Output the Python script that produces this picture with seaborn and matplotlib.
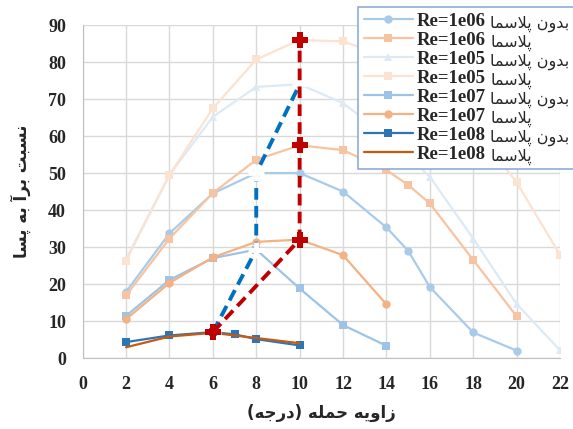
import matplotlib
matplotlib.use("Agg")
import matplotlib.pyplot as plt
from matplotlib.transforms import IdentityTransform
import seaborn as sns
import pandas as pd

# angle of attack (deg) and lift/drag ratio per case
x_1e06_np = [2, 4, 6, 8, 10, 12, 14, 15, 16, 18, 20]
y_1e06_np = [17.9, 33.7, 44.5, 50, 50, 45, 35.3, 29, 19.2, 6.9, 2]
x_1e06_p = [2, 4, 6, 8, 10, 12, 14, 15, 16, 18, 20]
y_1e06_p = [16.9, 32.3, 44.6, 53.6, 57.5, 56.2, 50.8, 46.8, 41.8, 26.5, 11.3]
x_1e05_np = [2, 4, 6, 8, 10, 12, 14, 16, 18, 20, 22]
y_1e05_np = [26.8, 49.5, 65.2, 73.3, 74, 68.9, 60, 49, 32.3, 14.6, 2.1]
x_1e05_p = [2, 4, 6, 8, 10, 12, 14, 16, 18, 20, 22]
y_1e05_p = [26.3, 49.5, 67.5, 80.7, 86, 85.6, 81.5, 74, 62.5, 47.5, 27.9]
x_1e07_np = [2, 4, 6, 8, 10, 12, 14]
y_1e07_np = [11.4, 21.1, 27, 29.3, 18.8, 8.9, 3.3]
x_1e07_p = [2, 4, 6, 8, 10, 12, 14]
y_1e07_p = [10.5, 20.3, 27.2, 31.4, 32, 27.8, 14.5]
x_1e08_np = [2, 4, 6, 7, 8, 10]
y_1e08_np = [4.3, 6.1, 7, 6.4, 5.1, 3.4]
x_1e08_p = [2, 4, 6, 8, 10]
y_1e08_p = [2.9, 5.8, 6.8, 5.4, 4]

# maxima trace (dashed)
x_max_np = [6, 8, 8, 10]
y_max_np = [7, 29.3, 50, 74]
x_max_p = [6, 10, 10, 10]
y_max_p = [7, 32, 57.5, 86]

x_ticks = list(range(0, 23, 2))
y_ticks = list(range(0, 91, 10))

# --- minimal arabic shaping (matplotlib has no RTL/joining support) ---
DUAL = {
    "ب": "\ufe8f\ufe90\ufe91\ufe92", "پ": "\ufb56\ufb57\ufb58\ufb59",
    "ت": "\ufe95\ufe96\ufe97\ufe98", "ن": "\ufee5\ufee6\ufee7\ufee8",
    "س": "\ufeb1\ufeb2\ufeb3\ufeb4", "م": "\ufee1\ufee2\ufee3\ufee4",
    "ل": "\ufedd\ufede\ufedf\ufee0", "ه": "\ufee9\ufeea\ufeeb\ufeec",
    "ی": "\ufbfc\ufbfd\ufbfe\ufbff", "ح": "\ufea1\ufea2\ufea3\ufea4",
    "ج": "\ufe9d\ufe9e\ufe9f\ufea0",
}
RIGHT = {
    "ا": "\ufe8d\ufe8e", "آ": "\ufe81\ufe82", "د": "\ufea9\ufeaa",
    "ر": "\ufead\ufeae", "ز": "\ufeaf\ufeb0", "و": "\ufeed\ufeee",
}
LAMALEF = {"ا": "\ufefb\ufefc", "آ": "\ufef5\ufef6"}


def shape(text):
    out = []
    i = 0
    while i < len(text):
        c = text[i]
        prev_joins = i > 0 and text[i - 1] in DUAL
        nxt = text[i + 1] if i + 1 < len(text) else ""
        if c == "ل" and nxt in LAMALEF:
            out.append(LAMALEF[nxt][1 if prev_joins else 0])
            i += 2
            continue
        if c in DUAL:
            next_joins = nxt in DUAL or nxt in RIGHT
            form = {(False, False): 0, (True, False): 1,
                    (False, True): 2, (True, True): 3}[(prev_joins, next_joins)]
            out.append(DUAL[c][form])
        elif c in RIGHT:
            out.append(RIGHT[c][1 if prev_joins else 0])
        else:
            out.append(c)
        i += 1
    vis = "".join(reversed(out))
    return vis.translate(str.maketrans("()", ")("))


NP = shape("بدون پلاسما")
P = shape("پلاسما")

series = [
    (x_1e06_np, y_1e06_np, "Re=1e06", NP, "#A9CBEA", "o"),
    (x_1e06_p, y_1e06_p, "Re=1e06", P, "#F7C3A1", "s"),
    (x_1e05_np, y_1e05_np, "Re=1e05", NP, "#DDEAF6", "^"),
    (x_1e05_p, y_1e05_p, "Re=1e05", P, "#FBE2D1", "s"),
    (x_1e07_np, y_1e07_np, "Re=1e07", NP, "#9DC3E6", "s"),
    (x_1e07_p, y_1e07_p, "Re=1e07", P, "#F4B183", "o"),
    (x_1e08_np, y_1e08_np, "Re=1e08", NP, "#2E75B6", "s"),
    (x_1e08_p, y_1e08_p, "Re=1e08", P, "#C55A11", None),
]

sns.set_style("white")
fig = plt.figure(figsize=(5.73, 4.29), dpi=100)
ax = fig.add_axes([0.1443, 0.1655, 0.833, 0.776])

for xs, ys, re, fa, color, mk in series:
    df = pd.DataFrame({"x": xs, "y": ys})
    sns.lineplot(data=df, x="x", y="y", ax=ax, color=color, linewidth=1.6,
                 marker=mk, markersize=6, markeredgewidth=0, label=re,
                 sort=False, estimator=None)

df_np = pd.DataFrame({"x": x_max_np, "y": y_max_np})
sns.lineplot(data=df_np, x="x", y="y", ax=ax, color="#0070C0", linewidth=2.8,
             linestyle=(0, (3, 1.6)), marker="+", markersize=12,
             markeredgewidth=3.5, sort=False, estimator=None, zorder=5)
df_p = pd.DataFrame({"x": x_max_p, "y": y_max_p})
sns.lineplot(data=df_p, x="x", y="y", ax=ax, color="#C00000", linewidth=2.8,
             linestyle=(0, (3, 1.6)), marker="P", markersize=11,
             markeredgewidth=0, sort=False, estimator=None, zorder=6)

ax.set_xlim(0, 22)
ax.set_ylim(0, 90)
ax.set_xticks(x_ticks)
ax.set_yticks(y_ticks)
ax.grid(True, color="#D9D9D9", linewidth=1)
for s in ax.spines.values():
    s.set_visible(False)
ax.spines["left"].set_visible(True)
ax.spines["bottom"].set_visible(True)
ax.spines["left"].set_color("#BFBFBF")
ax.spines["bottom"].set_color("#BFBFBF")
ax.tick_params(axis="both", length=0, labelsize=13)
ax.tick_params(axis="x", pad=13)
ax.tick_params(axis="y", pad=12)
for t in ax.get_xticklabels() + ax.get_yticklabels():
    t.set_family("Liberation Serif")
    t.set_fontweight("bold")

ax.set_xlabel(shape("زاویه حمله (درجه)"), family="DejaVu Sans",
              fontweight="bold", fontsize=12, labelpad=8)
ax.set_ylabel(shape("نسبت برآ به پسا"), family="DejaVu Sans",
              fontweight="bold", fontsize=12, labelpad=12)

# legend box runs past the right edge of the figure, as in the original
leg = ax.legend(loc="upper left", bbox_to_anchor=(0.625, 0.6, 0.42, 0.383),
                bbox_transform=fig.transFigure, mode="expand",
                prop={"family": "Liberation Serif", "weight": "bold",
                      "size": 13.5},
                frameon=True, fancybox=False, framealpha=1,
                handlelength=2.6, handletextpad=0.2, labelspacing=0.1,
                borderpad=0.3, borderaxespad=0)
leg.get_frame().set_edgecolor("#8FAADC")
leg.get_frame().set_linewidth(1.2)
leg.set_zorder(10)

# persian part of each legend entry, written right after "Re=..."
fig.canvas.draw()
r = fig.canvas.get_renderer()
for t, (_, _, re, fa, _, _) in zip(leg.get_texts(), series):
    prop = t.get_fontproperties()
    w_re, _, _ = r.get_text_width_height_descent(re + " ", prop, ismath=False)
    _, _, d_lp = r.get_text_width_height_descent("lp", prop, ismath=False)
    bb = t.get_window_extent(r)
    fig.text(bb.x0 + w_re, bb.y0 + d_lp - 2, fa, transform=IdentityTransform(),
             family="DejaVu Sans", fontsize=11.5, va="baseline", ha="left",
             zorder=20)

fig.savefig("out.png", dpi=100)
